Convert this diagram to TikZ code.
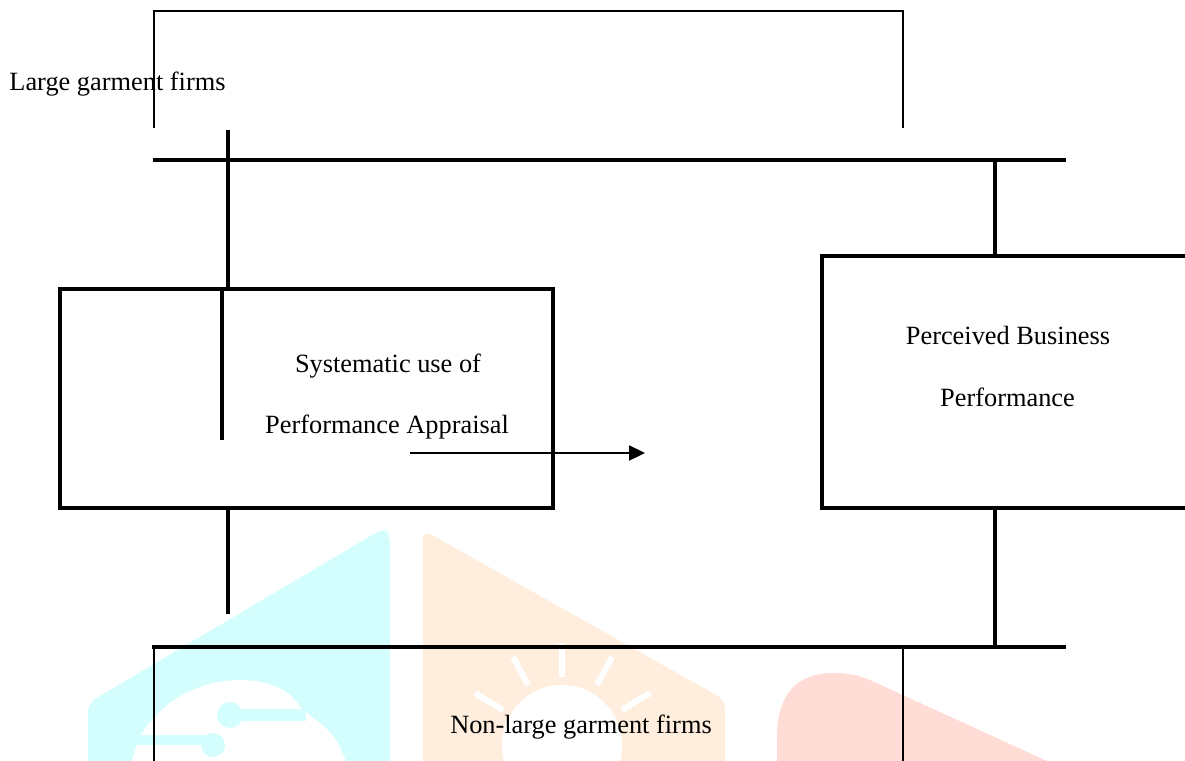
\documentclass[tikz,border=0pt]{standalone}
\usepackage{fontspec}
\setmainfont{Liberation Serif}
\usetikzlibrary{arrows.meta}
\definecolor{wmcyan}{HTML}{D4FEFE}
\definecolor{wmorange}{HTML}{FFEEDD}
\definecolor{wmred}{HTML}{FFDCD6}
\tikzset{
  px/.style={x=0.02cm,y=-0.02cm},
  thickline/.style={line width=2.2pt},
  thinline/.style={line width=1.3pt},
  boxstyle/.style={draw,line width=2.2pt,rectangle,inner sep=0pt},
  lbl/.style={font=\fontsize{15}{18}\selectfont,inner sep=0pt},
  ray/.style={white,line width=3.4pt},
}
\begin{document}
\begin{tikzpicture}[px]
\useasboundingbox (0,0) rectangle (1185,760);
\clip (0,0) rectangle (1185,760);
\fill[white] (0,0) rectangle (1185,760);
% faint watermark
\fill[wmcyan,rounded corners=5pt] (88,780) -- (88,703) -- (384,528) -- (390,534) -- (390,780) -- cycle;
\fill[white] (127,780) -- (138,740) .. controls (160,700) and (200,680) .. (240,680) .. controls (270,680) and (290,690) .. (300,707) -- (320,723) .. controls (335,735) and (345,750) .. (350,780) -- cycle;
\draw[wmcyan,line width=7pt] (230,715) -- (306,715);
\fill[wmcyan] (230,715) circle[radius=13];
\draw[wmcyan,line width=6pt] (130,740) -- (210,740);
\fill[wmcyan] (213,745) circle[radius=12];
\fill[wmorange,rounded corners=5pt] (423,780) -- (423,530) -- (725,700) -- (725,780) -- cycle;
\fill[white] (562,745) circle[radius=60];
\draw[ray] (562,643) -- (562,677);
\draw[ray] (513,657) -- (528,685);
\draw[ray] (612,657) -- (597,685);
\draw[ray] (475,693) -- (503,710);
\draw[ray] (650,693) -- (622,710);
\fill[wmred] (777,780) -- (777,735) .. controls (778,690) and (800,673) .. (835,673) .. controls (850,673) and (860,676) .. (870,680) -- (1060,767) -- (1060,780) -- cycle;
% boxes
\node[boxstyle,minimum width=9.86cm,minimum height=4.38cm] (sys) at (306.5,398.5) {};
\node[boxstyle,minimum width=7.44cm,minimum height=5.04cm] (perc) at (1008,382) {};
% texts
\node[lbl] (large) at (117.5,84) {Large garment firms};
\node[lbl] (sys1) at (388,366) {Systematic use of};
\node[lbl] (sys2) at (387,427) {Performance Appraisal};
\node[lbl] (perc1) at (1008,335) {Perceived Business};
\node[lbl] (perc2) at (1007.5,397) {Performance};
\node[lbl] (small) at (581,727) {Non-large garment firms};
% coordinates
\coordinate (tlb) at (154,128);
\coordinate (tlt) at (154,11);
\coordinate (trt) at (903,11);
\coordinate (trb) at (903,128);
\coordinate (hl1) at (153,160);
\coordinate (hr1) at (1066,160);
\coordinate (rv1) at (995,160);
\coordinate (rv2) at (995,646);
\coordinate (vtop) at (228,130);
\coordinate (inb) at (222,440);
\coordinate (astart) at (410,453);
\coordinate (aend) at (645,453);
\coordinate (vbot) at (228,614);
\coordinate (hl2) at (152,647);
\coordinate (hr2) at (1066,647);
\coordinate (blt) at (154,648);
\coordinate (brt) at (903,648);
\coordinate (bl) at (154,780);
\coordinate (br) at (903,780);
% connectors
\draw[thinline] (tlb) -- (tlt) -- (trt) -- (trb);
\draw[thickline] (hl1) -- (hr1);
\draw[thickline] (vtop) -- (vtop |- sys.north);
\draw[thickline] (rv1) -- (rv1 |- perc.north);
\draw[thickline] (sys.north -| inb) -- (inb);
\draw[line width=1pt,-{Triangle[length=9pt,width=8.5pt]}] (astart) -- (aend);
\draw[thickline] (vtop |- sys.south) -- (vbot);
\draw[thickline] (rv1 |- perc.south) -- (rv2);
\draw[thickline] (hl2) -- (hr2);
\draw[thinline] (blt) -- (bl);
\draw[thinline] (brt) -- (br);
\end{tikzpicture}
\end{document}
